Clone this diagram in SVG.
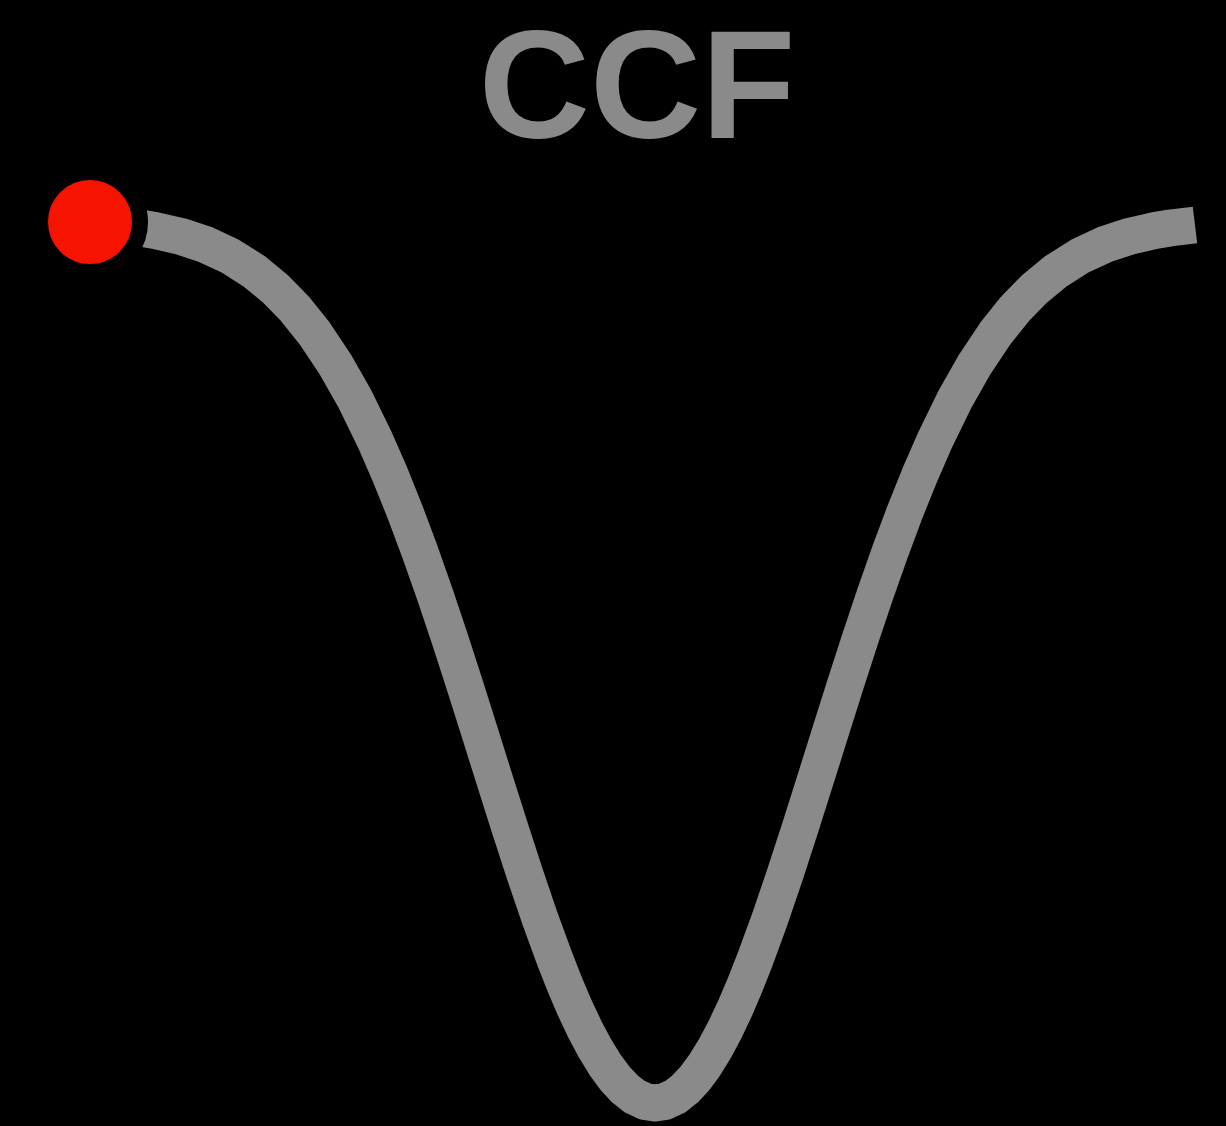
<svg xmlns="http://www.w3.org/2000/svg" width="1226" height="1126" viewBox="0 0 1226 1126">
<style>
.curve{fill:none;stroke:#8a8a8a;stroke-width:37;stroke-linejoin:round;stroke-linecap:butt}
.title{font-family:"Liberation Sans",Arial,sans-serif;font-weight:bold;fill:#8a8a8a}
</style>
<rect x="0" y="0" width="1226" height="1126" fill="#000"/>
<g id="title"><text class="title" x="637" y="138" font-size="154" text-anchor="middle">CCF</text></g>
<g id="connectors">
<polyline class="curve" points="140,228.0 155,230.5 180,236.2 205,244.4 230,256.0 255,271.9 275,288.4 295,308.9 315,333.9 335,363.9 355,399.2 375,440.2 390,474.5 405,511.8 420,552.0 435,594.6 450,639.4 465,685.8 480,733.3 495,781.0 510,828.4 525,874.5 540,918.6 555,959.6 565,985.0 575,1008.4 585,1029.6 595,1048.4 605,1064.7 615,1078.3 625,1089.0 635,1096.8 645,1101.4 655,1103 665,1101.4 675,1096.8 685,1089.0 695,1078.3 705,1064.7 715,1048.4 725,1029.6 735,1008.4 745,985.0 755,959.6 770,918.6 785,874.5 800,828.4 815,781.0 830,733.3 845,685.8 860,639.4 875,594.6 890,552.0 905,511.8 920,474.5 935,440.2 955,399.2 975,363.9 995,333.9 1015,308.9 1035,288.4 1055,271.9 1080,256.0 1105,244.4 1130,236.2 1155,230.5 1170,228.0 1195,225.0"/>
</g>
<g id="ball"><circle cx="90" cy="222" r="50" fill="#f61400" stroke="#000" stroke-width="16"/></g>
</svg>
